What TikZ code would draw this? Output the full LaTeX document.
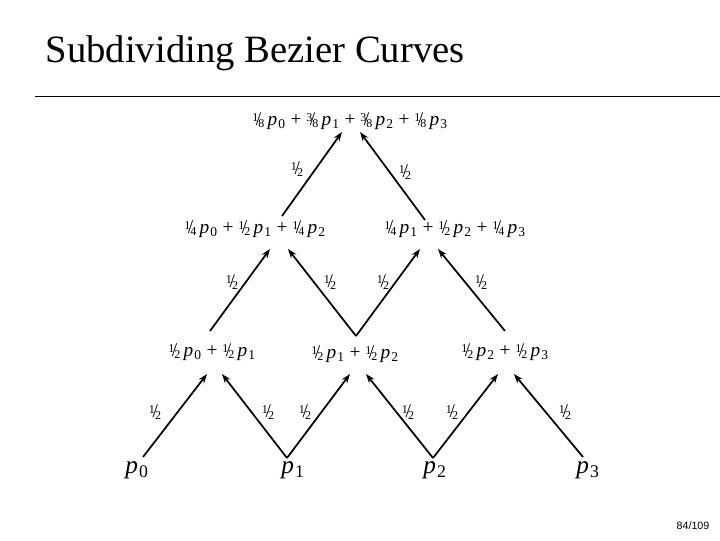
\documentclass[tikz,border=0pt]{standalone}
\usepackage{fontspec}
\setmainfont{Liberation Serif}
\setsansfont{Liberation Sans}
\usetikzlibrary{arrows.meta}
\makeatletter
\newcommand{\smfr}{\fontsize{\strip@pt\dimexpr.62\dimexpr\f@size pt\relax\relax}{1}\selectfont}
\makeatother
\newcommand{\hf}[2]{\leavevmode\raise.45ex\hbox{\smfr#1}\kern-.12em/\kern-.15em\lower.2ex\hbox{\smfr#2}}
\newcommand{\vp}[1]{\textit{p}\kern.05em\textsubscript{#1}}

\begin{document}
\begin{tikzpicture}[
    x=0.75pt, y=-0.75pt,
    term/.style={inner sep=0pt, font=\fontsize{14.5}{16}\selectfont},
    pt/.style={inner sep=0pt, font=\fontsize{19}{21}\selectfont},
    wt/.style={inner sep=0pt, font=\fontsize{14.5}{16}\selectfont},
    arr/.style={-{Stealth[length=7pt,width=5pt]}, line width=1.3pt},
  ]
  \useasboundingbox (0,0) rectangle (720,540);
  \node[anchor=west, font=\fontsize{29}{32}\selectfont] (title) at (41,53) {Subdividing Bezier Curves};
  \draw[line width=0.6pt] (35,96) coordinate (rl) -- (720,96) coordinate (rr);
  \node[font=\sffamily\fontsize{8}{9}\selectfont] (page) at (693,526) {84/109};

  % control points
  \node[pt] (p0) at (137,470) {\vp{0}};
  \node[pt] (p1) at (293,470) {\vp{1}};
  \node[pt] (p2) at (435,470) {\vp{2}};
  \node[pt] (p3) at (588,470) {\vp{3}};
  \coordinate (b0) at (143,457);
  \coordinate (b1) at (287,458);
  \coordinate (b2) at (433,458);
  \coordinate (b3) at (583,457);

  % first level
  \node[term] (q0) at (212,352) {\hf12\,\vp{0} + \hf12\,\vp{1}};
  \node[term] (q1) at (355,354) {\hf12\,\vp{1} + \hf12\,\vp{2}};
  \node[term] (q2) at (505,352) {\hf12\,\vp{2} + \hf12\,\vp{3}};
  \coordinate (q0t) at (207,374); \coordinate (q0u) at (222,374);
  \coordinate (q1t) at (350,374); \coordinate (q1u) at (366,374);
  \coordinate (q2t) at (498,374); \coordinate (q2u) at (514,374);
  \coordinate (q0b) at (210,331);
  \coordinate (q1b) at (356,336);
  \coordinate (q2b) at (505,331);

  % second level
  \node[term] (r0) at (255,229) {\hf14\,\vp{0} + \hf12\,\vp{1} + \hf14\,\vp{2}};
  \node[term] (r1) at (455,229) {\hf14\,\vp{1} + \hf12\,\vp{2} + \hf14\,\vp{3}};
  \coordinate (r0t) at (270,249); \coordinate (r0u) at (288,249);
  \coordinate (r1t) at (420,249); \coordinate (r1u) at (438,249);
  \coordinate (r0b) at (282,216);
  \coordinate (r1b) at (425,220);

  % top
  \node[term] (s) at (350,121) {\hf18\,\vp{0} + \hf38\,\vp{1} + \hf38\,\vp{2} + \hf18\,\vp{3}};
  \coordinate (st) at (342,132); \coordinate (su) at (360,132);

  \draw[arr] (b0) -- (q0t);
  \draw[arr] (b1) -- (q0u);
  \draw[arr] (b1) -- (q1t);
  \draw[arr] (b2) -- (q1u);
  \draw[arr] (b2) -- (q2t);
  \draw[arr] (b3) -- (q2u);
  \draw[arr] (q0b) -- (r0t);
  \draw[arr] (q1b) -- (r0u);
  \draw[arr] (q1b) -- (r1t);
  \draw[arr] (q2b) -- (r1u);
  \draw[arr] (r0b) -- (st);
  \draw[arr] (r1b) -- (su);

  % weights
  \foreach \x/\y/\n in {155/412/w1, 268/412/w2, 305/412/w3, 408/412/w4,
      452/412/w5, 565/412/w6, 232/282/w7, 330/282/w8, 383/282/w9,
      481/282/w10, 297/169/w11, 405/172/w12}
    \node[wt] (\n) at (\x,\y) {\hf12};
\end{tikzpicture}
\end{document}
